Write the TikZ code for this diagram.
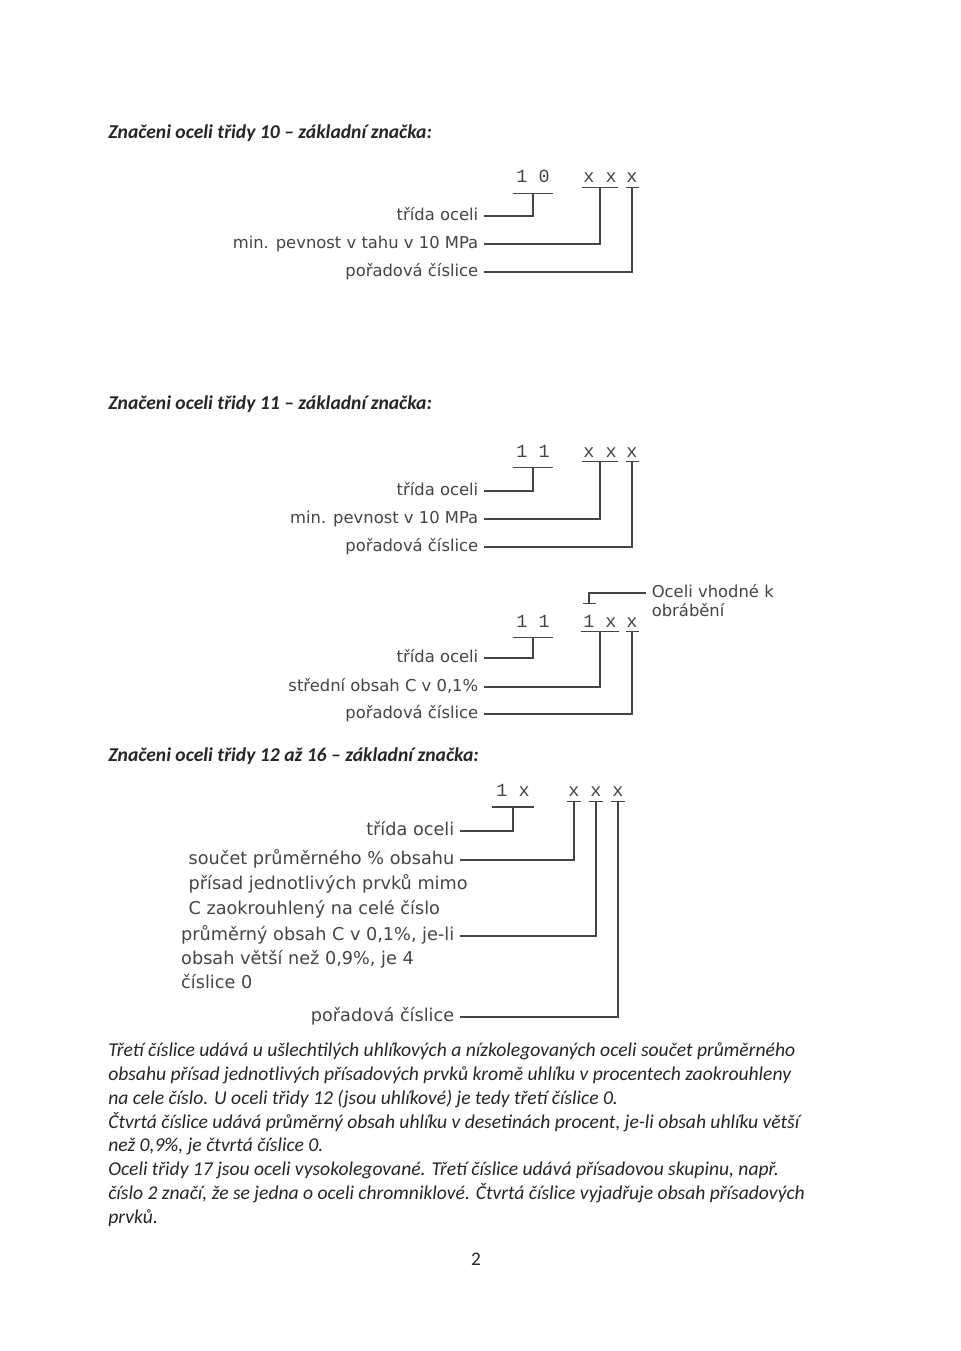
\documentclass[tikz,border=0pt]{standalone}
\usepackage{fontspec}
\setmainfont{Carlito}
\newfontfamily\lblfont{DejaVu Sans}
\newfontfamily\digfont{Liberation Mono}
\usetikzlibrary{positioning,calc}
\definecolor{inkgray}{HTML}{262626}
\definecolor{lblgray}{HTML}{454545}

\tikzset{
  titul/.style={font=\bfseries\itshape\fontsize{12.2}{14}\selectfont, text=inkgray, anchor=base west, inner sep=0pt},
  popis/.style={font=\itshape\fontsize{12.2}{14.9}\selectfont, text=inkgray, align=left, anchor=north west, inner sep=0pt},
  lbl/.style={font=\lblfont\fontsize{10.2}{12}\selectfont, text=lblgray, text height=1.5ex, text depth=.3ex, inner ysep=1pt, inner xsep=3.4pt},
  lblv/.style={lbl, font=\lblfont\fontsize{11}{13}\selectfont},
  cif/.style={font=\digfont\fontsize{11.5}{13}\selectfont, text=lblgray, text height=7pt, text depth=0pt, anchor=base},
  trida/.style={cif, inner xsep=2.2pt, inner ysep=6.2pt},
  skup/.style={cif, inner xsep=0.4pt, inner ysep=2.4pt},
  spoj/.style={draw=lblgray, line width=0.8pt}
}

\begin{document}
\begin{tikzpicture}[x=0.021875cm, y=-0.021875cm]
  \fill[white] (0,0) rectangle (960,1351);
  \useasboundingbox (0,0) rectangle (960,1351);

  % trida 10
  \node[titul] (tit10) at (108,139) {Značeni oceli třidy 10 – základní značka:};
  \node[trida] (c10) at (533,183) {1 0};
  \node[skup] (g10a) at (600,183) {x x};
  \node[skup] (g10b) at (632,183) {x};
  \node[lbl, anchor=east] (t10a) at (484,216) {třída oceli};
  \node[lbl, anchor=east] (t10b) at (484,244) {min. pevnost v tahu v 10 MPa};
  \node[lbl, anchor=east] (t10c) at (484,272) {pořadová číslice};
  \draw[spoj] (c10.south west) -- (c10.south east);
  \draw[spoj] (g10a.south west) -- (g10a.south east);
  \draw[spoj] (g10b.south west) -- (g10b.south east);
  \draw[spoj] (t10a.east) -| (c10.south);
  \draw[spoj] (t10b.east) -| (g10a.south);
  \draw[spoj] (t10c.east) -| (g10b.south);

  % trida 11
  \node[titul] (tit11) at (108,409) {Značeni oceli třidy 11 – základní značka:};
  \node[trida] (c11) at (533,457) {1 1};
  \node[skup] (g11a) at (600,457) {x x};
  \node[skup] (g11b) at (632,457) {x};
  \node[lbl, anchor=east] (t11a) at (484,491) {třída oceli};
  \node[lbl, anchor=east] (t11b) at (484,519) {min. pevnost v 10 MPa};
  \node[lbl, anchor=east] (t11c) at (484,547) {pořadová číslice};
  \draw[spoj] (c11.south west) -- (c11.south east);
  \draw[spoj] (g11a.south west) -- (g11a.south east);
  \draw[spoj] (g11b.south west) -- (g11b.south east);
  \draw[spoj] (t11a.east) -| (c11.south);
  \draw[spoj] (t11b.east) -| (g11a.south);
  \draw[spoj] (t11c.east) -| (g11b.south);

  % trida 11, obrabeni
  \node[trida] (c3) at (533,627) {1 1};
  \node[skup] (d3a) at (589,627) {1};
  \node[skup] (d3b) at (611,627) {x};
  \node[skup] (d3c) at (632,627) {x};
  \node[lbl, anchor=west] (m3a) at (646,593) {Oceli vhodné k};
  \node[lbl, below=1pt of m3a.south west, anchor=north west] (m3b) {obrábění};
  \node[lbl, anchor=east] (t3a) at (484,658) {třída oceli};
  \node[lbl, anchor=east] (t3b) at (484,687) {střední obsah C v 0,1\%};
  \node[lbl, anchor=east] (t3c) at (484,714) {pořadová číslice};
  \draw[spoj] (c3.south west) -- (c3.south east);
  \draw[spoj] ([xshift=-1pt]d3a.south west) -- ([xshift=1pt]d3b.south east);
  \draw[spoj] (d3c.south west) -- (d3c.south east);
  \draw[spoj] ([yshift=5pt]d3a.north west) -- ([yshift=5pt]d3a.north east);
  \draw[spoj] (m3a.west) -| ([yshift=5pt]d3a.north);
  \draw[spoj] (t3a.east) -| (c3.south);
  \draw[spoj] (t3b.east) -| ($(d3a.south)!.5!(d3b.south)$);
  \draw[spoj] (t3c.east) -| (d3c.south);

  % trida 12 az 16
  \node[titul] (tit12) at (108,761) {Značeni oceli třidy 12 až 16 – základní značka:};
  \node[cif, inner xsep=2.8pt, inner ysep=6.6pt] (d4) at (513,796) {1 x};
  \node[cif, inner xsep=1pt, inner ysep=3pt] (e4a) at (574,796) {x};
  \node[cif, inner xsep=1pt, inner ysep=3pt] (e4b) at (596,796) {x};
  \node[cif, inner xsep=1pt, inner ysep=3pt] (e4c) at (618,796) {x};
  \node[lblv, anchor=east] (t4a) at (460,831) {třída oceli};
  \node[lblv, anchor=east] (s4a) at (460,860) {součet průměrného \% obsahu};
  \node[lblv, below=4.5pt of s4a.south west, anchor=north west] (s4b) {přísad jednotlivých prvků mimo};
  \node[lblv, below=4.5pt of s4b.south west, anchor=north west] (s4c) {C zaokrouhlený na celé číslo};
  \node[lblv, anchor=east] (p4a) at (460,936) {průměrný obsah C v 0,1\%, je-li};
  \node[lblv, below=4pt of p4a.south west, anchor=north west] (p4b) {obsah větší než 0,9\%, je 4};
  \node[lblv, below=4pt of p4b.south west, anchor=north west] (p4c) {číslice 0};
  \node[lblv, anchor=east] (o4) at (460,1017) {pořadová číslice};
  \draw[spoj] (d4.south west) -- (d4.south east);
  \draw[spoj] (e4a.south west) -- (e4a.south east);
  \draw[spoj] (e4b.south west) -- (e4b.south east);
  \draw[spoj] (e4c.south west) -- (e4c.south east);
  \draw[spoj] (t4a.east) -| (d4.south);
  \draw[spoj] (s4a.east) -| (e4a.south);
  \draw[spoj] (p4a.east) -| (e4b.south);
  \draw[spoj] (o4.east) -| (e4c.south);

  \node[popis] (txt) at (108,1042) {Třetí číslice udává u ušlechtilých uhlíkových a nízkolegovaných oceli součet průměrného\\
    obsahu přísad jednotlivých přísadových prvků kromě uhlíku v procentech zaokrouhleny\\
    na cele číslo. U oceli třidy 12 (jsou uhlíkové) je tedy třetí číslice 0.\\
    Čtvrtá číslice udává průměrný obsah uhlíku v desetinách procent, je-li obsah uhlíku větší\\
    než 0,9\%, je čtvrtá číslice 0.\\
    Oceli třidy 17 jsou oceli vysokolegované. Třetí číslice udává přísadovou skupinu, např.\\
    číslo 2 značí, že se jedna o oceli chromniklové. Čtvrtá číslice vyjadřuje obsah přísadových\\
    prvků.};
  \node[font=\fontsize{12}{14}\selectfont, text=inkgray] (str) at (476,1259) {2};
\end{tikzpicture}
\end{document}
